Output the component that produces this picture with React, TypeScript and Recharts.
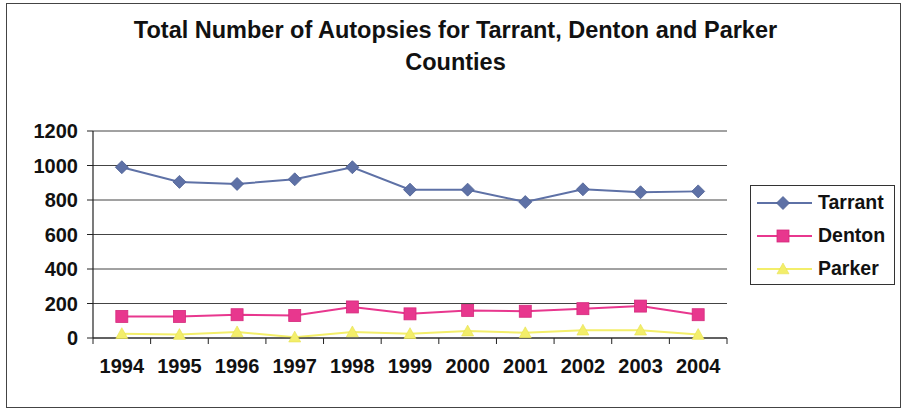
import React from "react";
import { LineChart, Line, XAxis, YAxis, CartesianGrid } from "recharts";

const years = ["1994", "1995", "1996", "1997", "1998", "1999", "2000", "2001", "2002", "2003", "2004"];
const tarrant = [990, 905, 893, 920, 990, 860, 860, 788, 862, 845, 850];
const denton = [125, 125, 135, 130, 180, 140, 160, 155, 170, 185, 135];
const parker = [25, 20, 35, 5, 35, 25, 40, 30, 45, 45, 20];
const yTicks = [0, 200, 400, 600, 800, 1000, 1200];

const seriesNames = ["Tarrant", "Denton", "Parker"];
const colors = { Tarrant: "#5e71a6", Denton: "#e8378e", Parker: "#f3ee6a" };

const data = years.map((y, i) => ({
  year: y,
  Tarrant: tarrant[i],
  Denton: denton[i],
  Parker: parker[i],
}));

const W = 904;
const H = 410;
const PLOT_LEFT = 93;
const PLOT_RIGHT = 727;
const HALF_BAND = (PLOT_RIGHT - PLOT_LEFT) / years.length / 2;
const FONT = "'Liberation Sans', Arial, sans-serif";

const Diamond = (props: any) => {
  const { cx, cy, fill, size = 6.5 } = props;
  if (cx == null || cy == null) return null;
  return (
    <path
      d={`M${cx},${cy - size} L${cx + size},${cy} L${cx},${cy + size} L${cx - size},${cy} Z`}
      fill={fill}
      stroke="#4d5f93"
      strokeWidth={0.8}
    />
  );
};

const Square = (props: any) => {
  const { cx, cy, fill, size = 6 } = props;
  if (cx == null || cy == null) return null;
  return <rect x={cx - size} y={cy - size} width={size * 2} height={size * 2} fill={fill} stroke="#d42a7c" strokeWidth={0.8} />;
};

const Triangle = (props: any) => {
  const { cx, cy, fill, size = 6 } = props;
  if (cx == null || cy == null) return null;
  return (
    <path
      d={`M${cx},${cy - size} L${cx + size},${cy + size * 0.8} L${cx - size},${cy + size * 0.8} Z`}
      fill={fill}
      stroke="#e6e050"
      strokeWidth={0.6}
    />
  );
};

const XTick = (props: any) => {
  const { x, y, payload, index } = props;
  return (
    <g>
      {index === 0 && <line x1={x - HALF_BAND} y1={y} x2={x - HALF_BAND} y2={y + 6} stroke="#222" strokeWidth={1} />}
      <line x1={x + HALF_BAND} y1={y} x2={x + HALF_BAND} y2={y + 6} stroke="#222" strokeWidth={1} />
      <text x={x} y={y + 35} textAnchor="middle" fontFamily={FONT} fontWeight="bold" fontSize={20} fill="#111">
        {payload.value}
      </text>
    </g>
  );
};

const markerFor = (name: string, cx: number, cy: number) => {
  const fill = (colors as any)[name];
  if (name === "Tarrant") return <Diamond cx={cx} cy={cy} fill={fill} size={6.5} />;
  if (name === "Denton") return <Square cx={cx} cy={cy} fill={fill} size={6} />;
  return <Triangle cx={cx} cy={cy} fill={fill} size={6} />;
};

const LegendBox = () => (
  <div
    style={{
      position: "absolute",
      left: 750,
      top: 185,
      border: "1px solid #333",
      width: 145,
      height: 100,
      boxSizing: "border-box",
      background: "#fff",
    }}
  >
    {seriesNames.map((name) => (
      <div key={name} style={{ display: "flex", alignItems: "center", height: 33 }}>
        <svg width={63} height={20} style={{ marginLeft: 4, flex: "none" }}>
          <line x1={2} y1={10} x2={57} y2={10} stroke={(colors as any)[name]} strokeWidth={2} />
          {markerFor(name, 28, 10)}
        </svg>
        <span style={{ fontFamily: FONT, fontWeight: "bold", fontSize: 19.5, color: "#111", whiteSpace: "nowrap" }}>
          {name}
        </span>
      </div>
    ))}
  </div>
);

export default function App() {
  return (
    <div style={{ position: "absolute", left: 0, top: 0, width: W, height: H, background: "#fff" }}>
      <div
        style={{
          position: "absolute",
          left: 6,
          top: 3,
          width: 895,
          height: 405,
          border: "1px solid #444",
          boxSizing: "border-box",
        }}
      />
      <div
        style={{
          position: "absolute",
          left: 0,
          top: 14,
          width: 911,
          textAlign: "center",
          fontFamily: FONT,
          fontWeight: "bold",
          fontSize: 23.5,
          lineHeight: "32px",
          color: "#111",
        }}
      >
        Total Number of Autopsies for Tarrant, Denton and Parker
        <br />
        Counties
      </div>
      <div style={{ position: "absolute", left: 0, top: 0 }}>
        <LineChart
          width={W}
          height={H}
          data={data}
          margin={{ top: 131, right: W - PLOT_RIGHT, left: 0, bottom: 10 }}
        >
          <CartesianGrid vertical={false} stroke="#444" strokeWidth={1} />
          <XAxis
            dataKey="year"
            height={62}
            padding={{ left: HALF_BAND, right: HALF_BAND }}
            tickLine={false}
            tickSize={0}
            tickMargin={0}
            axisLine={{ stroke: "#222", strokeWidth: 1.2 }}
            tick={<XTick />}
            interval={0}
          />
          <YAxis
            width={PLOT_LEFT}
            domain={[0, 1200]}
            ticks={yTicks}
            interval={0}
            tickSize={6}
            tickMargin={9}
            tickLine={{ stroke: "#222" }}
            axisLine={{ stroke: "#222", strokeWidth: 1.2 }}
            tick={{ fontFamily: FONT, fontWeight: "bold", fontSize: 20, fill: "#111" }}
          />
          <Line
            type="linear"
            dataKey="Parker"
            stroke={colors.Parker}
            strokeWidth={2}
            dot={<Triangle fill={colors.Parker} />}
            isAnimationActive={false}
          />
          <Line
            type="linear"
            dataKey="Denton"
            stroke={colors.Denton}
            strokeWidth={2}
            dot={<Square fill={colors.Denton} />}
            isAnimationActive={false}
          />
          <Line
            type="linear"
            dataKey="Tarrant"
            stroke={colors.Tarrant}
            strokeWidth={2}
            dot={<Diamond fill={colors.Tarrant} />}
            isAnimationActive={false}
          />
        </LineChart>
      </div>
      <LegendBox />
    </div>
  );
}
